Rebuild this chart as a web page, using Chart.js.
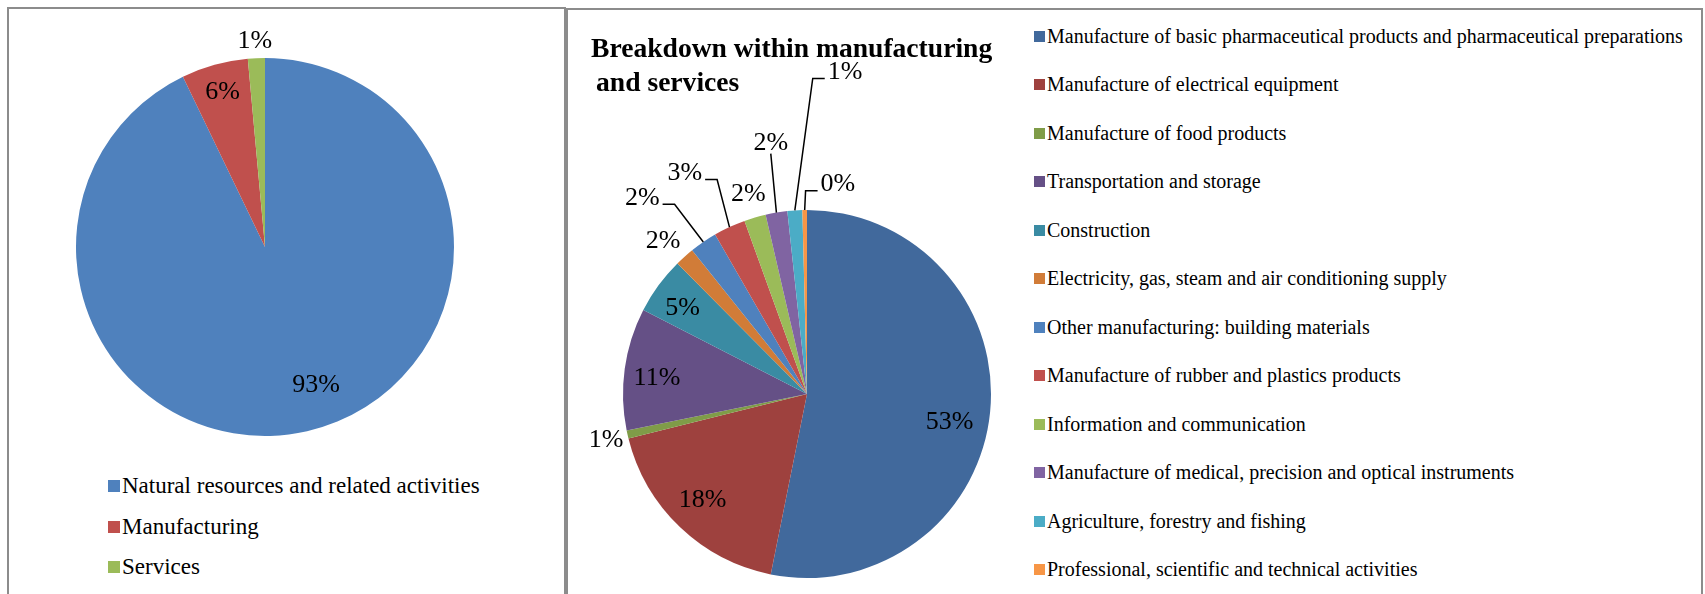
<html>
<head>
  <script src="https://cdn.jsdelivr.net/npm/chart.js@4.4.1/dist/chart.umd.min.js"></script>
  <style>
    body { margin: 0; width: 1705px; height: 594px; overflow: hidden; background: #fff; font-family: "Liberation Serif", "Times New Roman", serif; color: #000; }
    .panel { position: absolute; border: 2px solid #8c8c8c; border-bottom: none; box-sizing: border-box; height: 620px; }
    canvas { position: absolute; }
    .title { position: absolute; font-weight: bold; font-size: 27.6px; line-height: 34px; white-space: nowrap; }
    .legend-item { position: absolute; white-space: nowrap; display: flex; align-items: center; }
    .legend-item span.box { display: inline-block; margin-right: 2px; }
  </style>
</head>

<script>
  // Left chart: overall split
  const overviewLabels = ['Natural resources and related activities', 'Manufacturing', 'Services'];
  const overviewValues = [92.85, 5.7, 1.45];
  const overviewColors = ['#4F81BD', '#C0504D', '#9BBB59'];

  // Right chart: breakdown within manufacturing and services
  const breakdownLabels = [
    'Manufacture of basic pharmaceutical products and pharmaceutical preparations',
    'Manufacture of electrical equipment',
    'Manufacture of food products',
    'Transportation and storage',
    'Construction',
    'Electricity, gas, steam and air conditioning supply',
    'Other manufacturing: building materials',
    'Manufacture of rubber and plastics products',
    'Information and communication',
    'Manufacture of medical, precision and optical instruments',
    'Agriculture, forestry and fishing',
    'Professional, scientific and technical activities'
  ];
  const breakdownValues = [53.0, 17.9, 0.7, 10.7, 5.0, 1.7, 2.4, 2.8, 1.9, 1.9, 1.3, 0.4];
  const breakdownColors = ['#41699C', '#9E413E', '#7F9C48', '#655086', '#3A8BA3', '#D17C38',
    '#4F81BD', '#C0504D', '#9BBB59', '#8064A2', '#4BACC6', '#F79646'];

  // Where each percentage label sits: [distance in radii, degrees clockwise from 12 o'clock, leader line?]
  const overviewSpots = [[0.78, 159.7], [0.85, 344.7], [1.09, 357.2]];
  const breakdownSpots = [[0.79, 101], [0.81, 224.5], [1.12, 257], [0.82, 276], [0.82, 304.5], [1.14, 316.7],
    [1.39, 319.9, true], [1.37, 331, true], [1.13, 343.6], [1.38, 351.8, true], [1.76, 6.75, true], [1.15, 8.4, true]];

  // Draws "NN%" labels and Excel-style leader lines.
  const pctLabels = {
    id: 'pctLabels',
    afterDatasetsDraw(chart, args, opts) {
      const ctx = chart.ctx;
      const meta = chart.getDatasetMeta(0);
      const values = chart.data.datasets[0].data;
      const total = values.reduce((a, b) => a + b, 0);
      ctx.save();
      ctx.font = opts.font;
      ctx.fillStyle = '#000';
      ctx.textAlign = 'center';
      ctx.textBaseline = 'middle';
      meta.data.forEach((arc, i) => {
        const p = arc.getProps(['x', 'y', 'outerRadius', 'startAngle', 'endAngle'], true);
        const spot = opts.spots[i];
        const a = (spot[1] - 90) * Math.PI / 180;
        const lx = p.x + Math.cos(a) * spot[0] * p.outerRadius;
        const ly = p.y + Math.sin(a) * spot[0] * p.outerRadius;
        const text = Math.round(values[i] / total * 100) + '%';
        ctx.fillText(text, lx, ly);
        if (spot[2]) {
          const mid = (p.startAngle + p.endAngle) / 2;
          const ax = p.x + Math.cos(mid) * p.outerRadius;
          const ay = p.y + Math.sin(mid) * p.outerRadius;
          const w = ctx.measureText(text).width;
          ctx.beginPath();
          ctx.lineWidth = 1.5;
          ctx.strokeStyle = '#000';
          if (Math.abs(ax - lx) < w / 2) {
            ctx.moveTo(lx, ly + 11);
            ctx.lineTo(ax, ay);
          } else {
            const dir = ax > lx ? 1 : -1;
            const sx = lx + dir * (w / 2 + 3);
            ctx.moveTo(sx, ly + 6);
            ctx.lineTo(sx + dir * 12, ly + 6);
            ctx.lineTo(ax, ay);
          }
          ctx.stroke();
        }
      });
      ctx.restore();
    }
  };

  function makePie(id, labels, values, colors, spots, padding) {
    new Chart(document.getElementById(id), {
      type: 'pie',
      data: { labels, datasets: [{ data: values, backgroundColor: colors, borderWidth: 0 }] },
      options: {
        responsive: false,
        animation: false,
        layout: { padding },
        plugins: {
          legend: { display: false },
          tooltip: { enabled: false },
          pctLabels: { font: '26px "Liberation Serif"', spots }
        }
      },
      plugins: [pctLabels]
    });
  }

  function makeLegend(labels, colors, left, top, step, box, fontSize) {
    labels.forEach((label, i) => {
      const item = document.createElement('div');
      item.className = 'legend-item';
      item.style.left = left + 'px';
      item.style.top = (top + i * step) + 'px';
      item.style.fontSize = fontSize + 'px';
      item.style.height = '24px';
      item.style.marginTop = '-12px';
      const sq = document.createElement('span');
      sq.className = 'box';
      sq.style.width = box + 'px';
      sq.style.height = box + 'px';
      sq.style.background = colors[i];
      item.append(sq);
      item.append(document.createTextNode(label));
      document.body.append(item);
    });
  }

  window.addEventListener('load', () => {
    makePie('leftPie', overviewLabels, overviewValues, overviewColors, overviewSpots,
      { left: 67, top: 49, right: 109, bottom: 3 });
    makePie('rightPie', breakdownLabels, breakdownValues, breakdownColors, breakdownSpots,
      { left: 54, top: 200, right: 38, bottom: 16 });
    makeLegend(overviewLabels, overviewColors, 108, 486, 40.5, 12, 23);
    makeLegend(breakdownLabels, breakdownColors, 1034, 36, 48.5, 11, 20);
  });
</script>

<body>
  <div class="panel" style="left:7px; top:7px; width:559px;"></div>
  <div class="panel" style="left:566px; top:8px; width:1137px;"></div>
  <canvas id="leftPie" width="554" height="430" style="left:9px; top:9px;"></canvas>
  <canvas id="rightPie" width="460" height="584" style="left:569px; top:10px;"></canvas>
  <div class="title" style="left:591px; top:31px;">Breakdown within manufacturing</div>
  <div class="title" style="left:596px; top:65px;">and services</div>
</body>

</html>
